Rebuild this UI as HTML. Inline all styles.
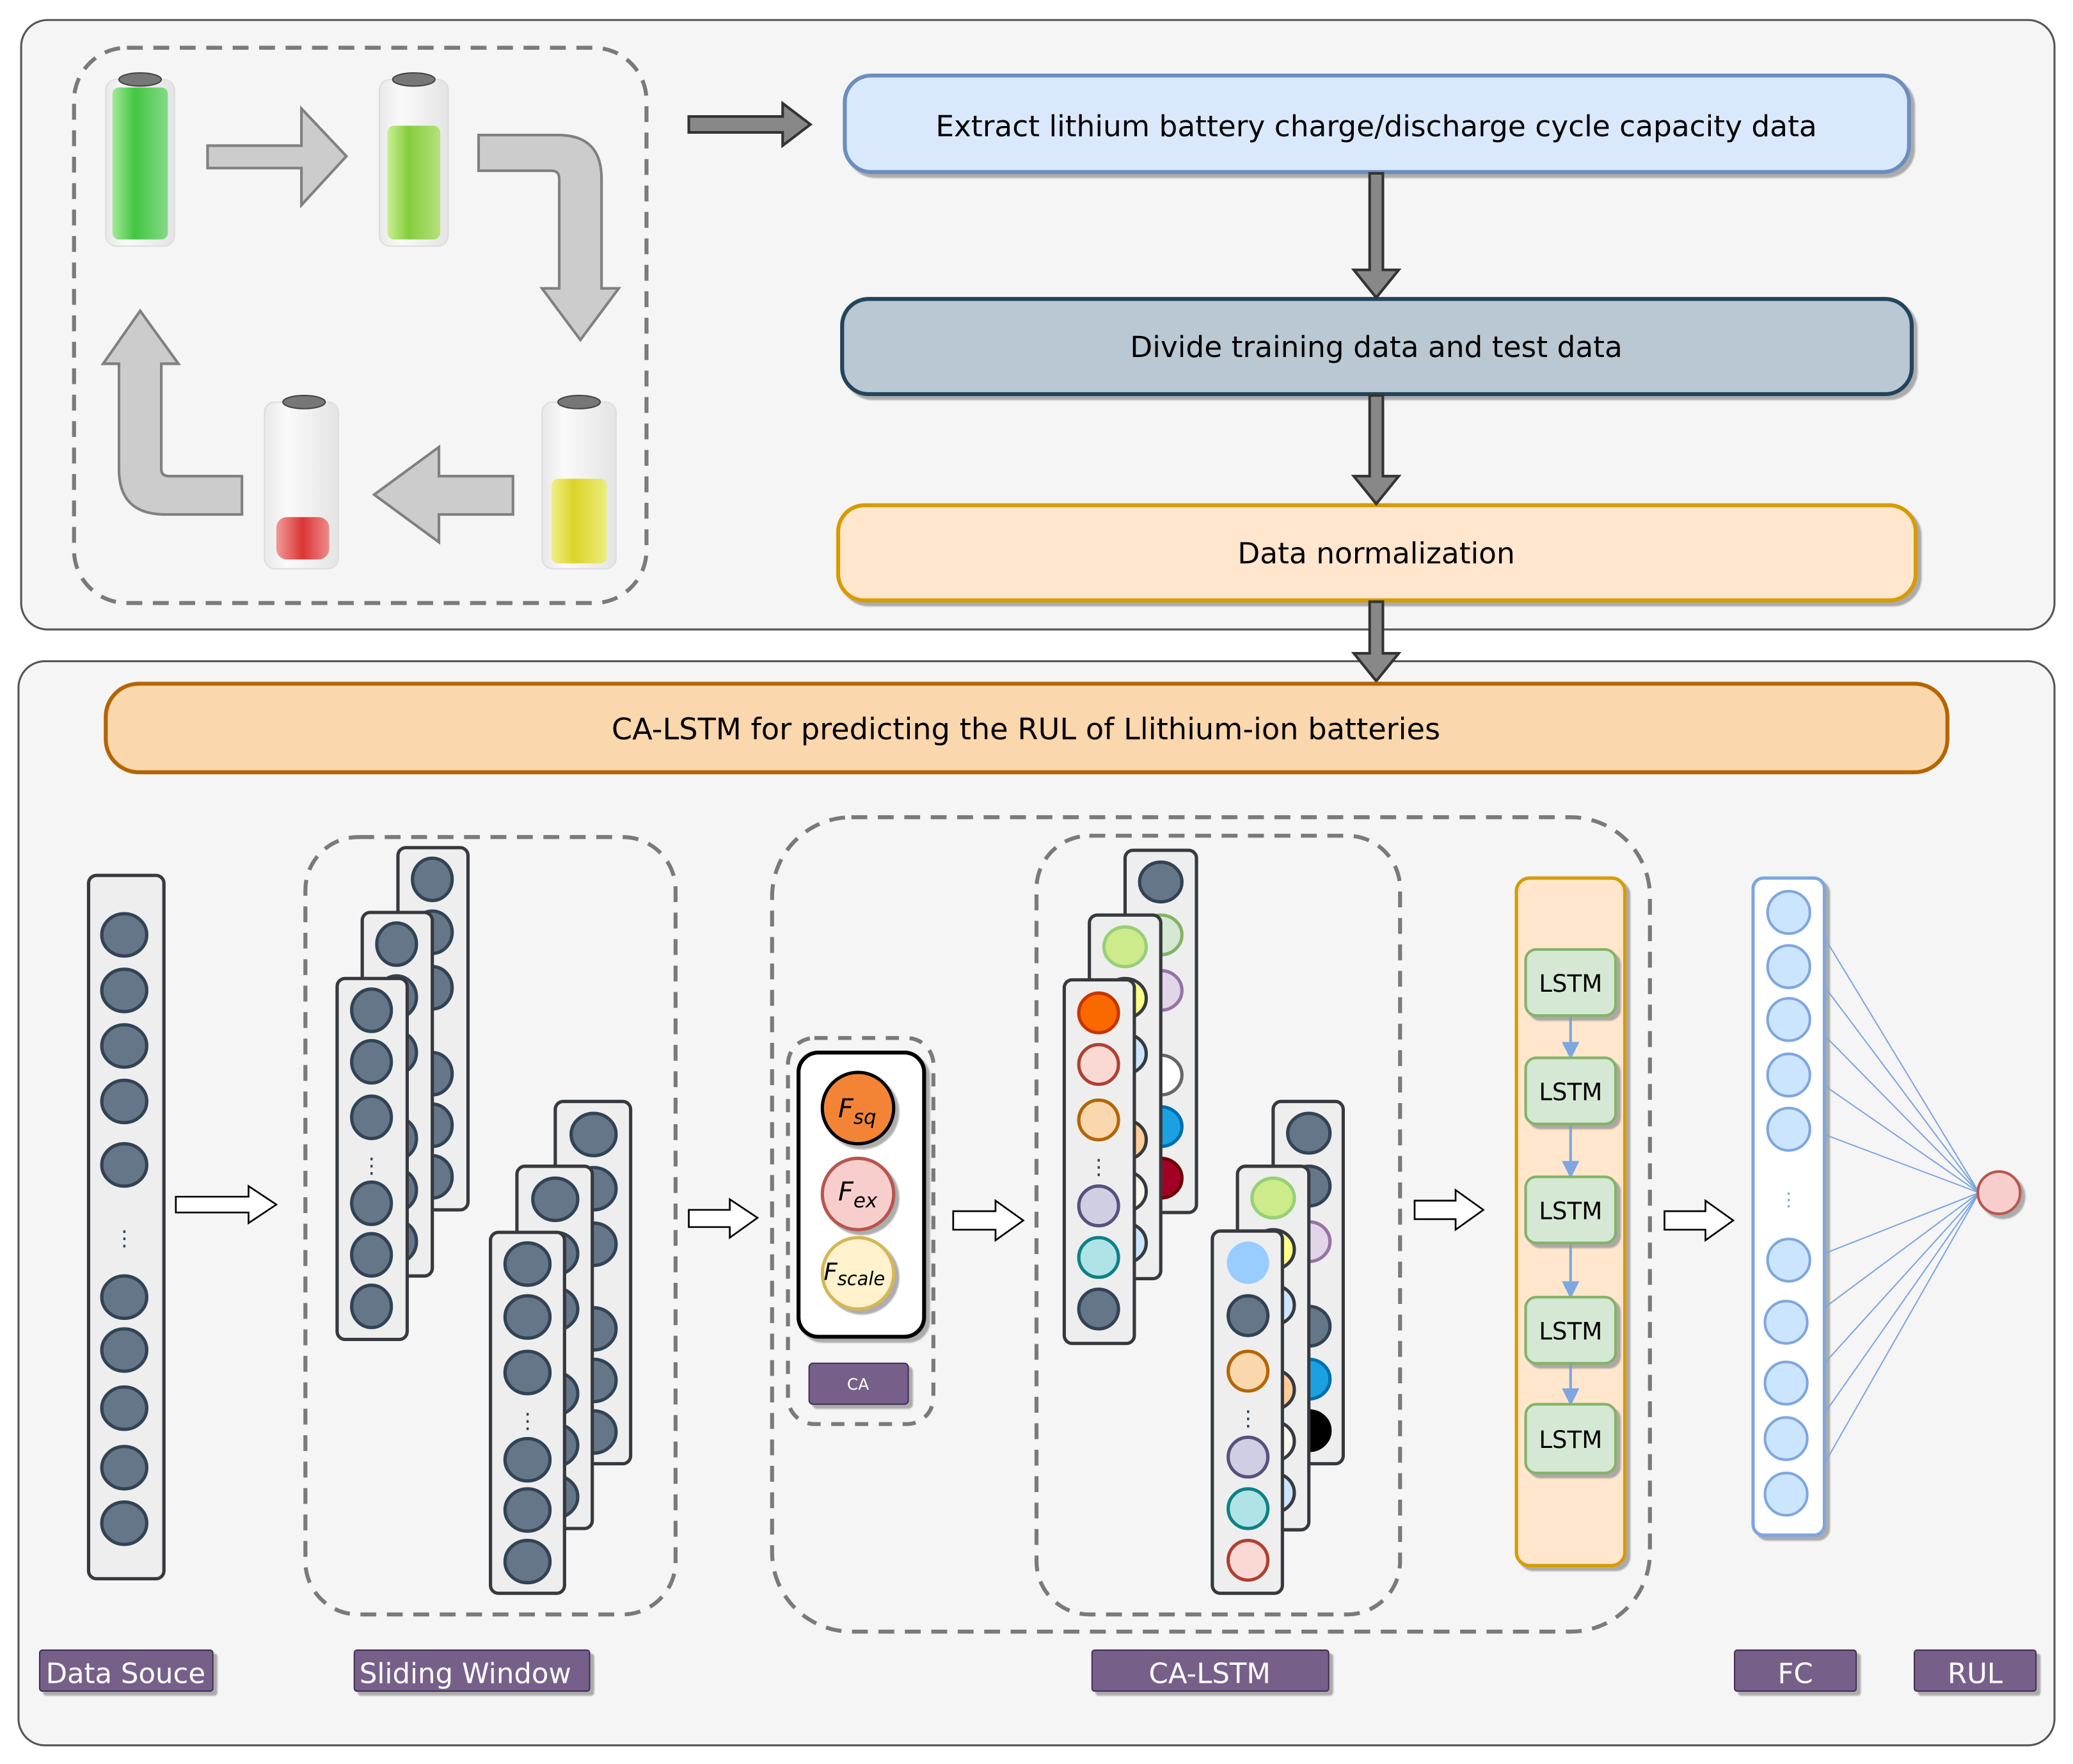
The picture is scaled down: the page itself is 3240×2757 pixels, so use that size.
<!DOCTYPE html>
<html><head><meta charset="utf-8"><style>
html,body{margin:0;padding:0;background:#fff}
svg{display:block}
text{font-family:"DejaVu Sans","Liberation Sans",sans-serif}
</style></head><body>
<svg width="3240" height="2757" viewBox="0 0 1568 1334" xmlns="http://www.w3.org/2000/svg">
<defs>
<linearGradient id="glass" x1="0" x2="1"><stop offset="0" stop-color="#e8e8e8"/><stop offset="0.3" stop-color="#fafafa"/><stop offset="1" stop-color="#e4e4e4"/></linearGradient>
<linearGradient id="gG" x1="0" x2="1"><stop offset="0" stop-color="#9be88f"/><stop offset="0.4" stop-color="#2fc02f"/><stop offset="1" stop-color="#7ad87a"/></linearGradient>
<linearGradient id="gL" x1="0" x2="1"><stop offset="0" stop-color="#c4f08a"/><stop offset="0.4" stop-color="#78c828"/><stop offset="1" stop-color="#b0e070"/></linearGradient>
<linearGradient id="gY" x1="0" x2="1"><stop offset="0" stop-color="#f0f080"/><stop offset="0.4" stop-color="#d8d010"/><stop offset="1" stop-color="#ecec70"/></linearGradient>
<linearGradient id="gR" x1="0" x2="1"><stop offset="0" stop-color="#f09090"/><stop offset="0.5" stop-color="#d82020"/><stop offset="1" stop-color="#f08080"/></linearGradient>
<filter id="sh" x="-10%" y="-10%" width="130%" height="130%"><feDropShadow dx="3" dy="3" stdDeviation="0.5" flood-color="#999" flood-opacity="0.8"/></filter>
</defs>
<rect width="1568" height="1334" fill="#fff"/>
<rect x="16" y="15" width="1538" height="461" rx="20" fill="#f5f5f5" stroke="#555" stroke-width="1.5"/>
<rect x="14" y="500" width="1540" height="820" rx="20" fill="#f5f5f5" stroke="#555" stroke-width="1.5"/>

<rect x="56" y="36" width="433" height="420" rx="40" fill="none" stroke="#7a7a7a" stroke-width="3" stroke-dasharray="12,8"/>
<g>
<rect x="80" y="60" width="52" height="126" rx="8" fill="url(#glass)" stroke="#ddd"/>
<rect x="85" y="66" width="42" height="115" rx="5" fill="url(#gG)" opacity="0.9"/>
<ellipse cx="106" cy="60" rx="16" ry="5" fill="#777" stroke="#444"/>
<rect x="287" y="60" width="52" height="126" rx="8" fill="url(#glass)" stroke="#ddd"/>
<rect x="293" y="95" width="40" height="86" rx="5" fill="url(#gL)" opacity="0.9"/>
<ellipse cx="313" cy="60" rx="16" ry="5" fill="#777" stroke="#444"/>
<rect x="410" y="304" width="56" height="126" rx="8" fill="url(#glass)" stroke="#ddd"/>
<rect x="417" y="362" width="42" height="64" rx="5" fill="url(#gY)" opacity="0.9"/>
<ellipse cx="438" cy="304" rx="16" ry="5" fill="#777" stroke="#444"/>
<rect x="200" y="304" width="56" height="126" rx="8" fill="url(#glass)" stroke="#ddd"/>
<rect x="209" y="391" width="40" height="32" rx="8" fill="url(#gR)" opacity="0.9"/>
<ellipse cx="230" cy="304" rx="16" ry="5" fill="#777" stroke="#444"/>
</g>
<g fill="#cccccc" stroke="#808080" stroke-width="2">
<path d="M157,110 H228 V82 L262,118 L228,155 V127 H157 Z"/>
<path d="M362,102 H422 Q455,102 455,135 V218 H468 L439,257 L410,218 H423 V135 Q423,129 417,129 H362 Z"/>
<path d="M388,360 H332 V338 L283,374 L332,410 V389 H388 Z"/>
<path d="M183,360 H128 Q122,360 122,355 V275 H135 L106,235 L78,275 H90 V355 Q90,389 125,389 H183 Z"/>
</g>
<path d="M521,88 H592 V78 L613,94 L592,110 V100 H521 Z" fill="#888" stroke="#333" stroke-width="2"/>

<rect x="639" y="57" width="805" height="73" rx="20" fill="#dae8fc" stroke="#6c8ebf" stroke-width="3" filter="url(#sh)"/>
<text x="1041" y="103" font-size="22" text-anchor="middle">Extract lithium battery charge/discharge cycle capacity data</text>
<rect x="637" y="226" width="809" height="72" rx="20" fill="#bac8d3" stroke="#23445d" stroke-width="3" filter="url(#sh)"/>
<text x="1041" y="270" font-size="22" text-anchor="middle">Divide training data and test data</text>
<rect x="634" y="382" width="815" height="72" rx="20" fill="#ffe6cc" stroke="#d79b00" stroke-width="3" filter="url(#sh)"/>
<text x="1041" y="426" font-size="22" text-anchor="middle">Data normalization</text>
<g fill="#888" stroke="#333" stroke-width="2">
<path d="M1036,131 H1046 V204 H1058 L1041,225 L1024,204 H1036 Z"/>
<path d="M1036,299 H1046 V360 H1058 L1041,381 L1024,360 H1036 Z"/>
<path d="M1036,455 H1046 V494 H1058 L1041,515 L1024,494 H1036 Z"/>
</g>

<rect x="80" y="517" width="1393" height="67" rx="25" fill="#fad7ac" stroke="#b46504" stroke-width="3"/>
<text x="776" y="559" font-size="22.4" text-anchor="middle">CA-LSTM for predicting the RUL of Llithium-ion batteries</text>

<rect x="67" y="662" width="57" height="532" rx="6" fill="#eeeeee" stroke="#36393d" stroke-width="2.5"/>
<g fill="#647687" stroke="#314354" stroke-width="2.5">
<ellipse cx="94" cy="707" rx="17" ry="16"/><ellipse cx="94" cy="749" rx="17" ry="16"/><ellipse cx="94" cy="791" rx="17" ry="16"/><ellipse cx="94" cy="833" rx="17" ry="16"/><ellipse cx="94" cy="881" rx="17" ry="16"/>
<ellipse cx="94" cy="981" rx="17" ry="16"/><ellipse cx="94" cy="1021" rx="17" ry="16"/><ellipse cx="94" cy="1065" rx="17" ry="16"/><ellipse cx="94" cy="1110" rx="17" ry="16"/><ellipse cx="94" cy="1152" rx="17" ry="16"/>
</g>
<text x="94" y="942" font-size="16" text-anchor="middle" fill="#314354">⋮</text>

<rect x="231" y="633" width="280" height="588" rx="40" fill="none" stroke="#7a7a7a" stroke-width="3" stroke-dasharray="12,8"/>
<g stroke="#36393d" stroke-width="2.5">
<rect x="301" y="641" width="53" height="274" rx="6" fill="#eeeeee"/>
<g fill="#647687" stroke="#314354"><ellipse cx="327" cy="665" rx="15" ry="16"/><ellipse cx="327" cy="705" rx="15" ry="16"/><ellipse cx="327" cy="747" rx="15" ry="16"/><ellipse cx="327" cy="812" rx="15" ry="16"/><ellipse cx="327" cy="851" rx="15" ry="16"/><ellipse cx="327" cy="890" rx="15" ry="16"/></g>
<rect x="274" y="690" width="53" height="275" rx="6" fill="#eeeeee"/>
<g fill="#647687" stroke="#314354"><ellipse cx="300" cy="714" rx="15" ry="16"/><ellipse cx="300" cy="754" rx="15" ry="16"/><ellipse cx="300" cy="796" rx="15" ry="16"/><ellipse cx="300" cy="861" rx="15" ry="16"/><ellipse cx="300" cy="900" rx="15" ry="16"/><ellipse cx="300" cy="939" rx="15" ry="16"/></g>
<rect x="255" y="740" width="53" height="273" rx="6" fill="#eeeeee"/>
<g fill="#647687" stroke="#314354"><ellipse cx="281" cy="764" rx="15" ry="16"/><ellipse cx="281" cy="803" rx="15" ry="16"/><ellipse cx="281" cy="845" rx="15" ry="16"/><ellipse cx="281" cy="910" rx="15" ry="16"/><ellipse cx="281" cy="949" rx="15" ry="16"/><ellipse cx="281" cy="988" rx="15" ry="16"/></g>

<rect x="420" y="833" width="57" height="274" rx="6" fill="#eeeeee"/>
<g fill="#647687" stroke="#314354"><ellipse cx="449" cy="858" rx="17" ry="16"/><ellipse cx="449" cy="899" rx="17" ry="16"/><ellipse cx="449" cy="941" rx="17" ry="16"/><ellipse cx="449" cy="1005" rx="17" ry="16"/><ellipse cx="449" cy="1044" rx="17" ry="16"/><ellipse cx="449" cy="1083" rx="17" ry="16"/></g>
<rect x="391" y="882" width="57" height="274" rx="6" fill="#eeeeee"/>
<g fill="#647687" stroke="#314354"><ellipse cx="420" cy="907" rx="17" ry="16"/><ellipse cx="420" cy="948" rx="17" ry="16"/><ellipse cx="420" cy="990" rx="17" ry="16"/><ellipse cx="420" cy="1054" rx="17" ry="16"/><ellipse cx="420" cy="1093" rx="17" ry="16"/><ellipse cx="420" cy="1132" rx="17" ry="16"/></g>
<rect x="371" y="932" width="56" height="273" rx="6" fill="#eeeeee"/>
<g fill="#647687" stroke="#314354"><ellipse cx="399" cy="956" rx="17" ry="16"/><ellipse cx="399" cy="996" rx="17" ry="16"/><ellipse cx="399" cy="1038" rx="17" ry="16"/><ellipse cx="399" cy="1104" rx="17" ry="16"/><ellipse cx="399" cy="1142" rx="17" ry="16"/><ellipse cx="399" cy="1181" rx="17" ry="16"/></g>
</g>
<text x="281" y="887" font-size="16" text-anchor="middle" fill="#314354">⋮</text>
<text x="399" y="1080" font-size="16" text-anchor="middle" fill="#314354">⋮</text>

<g fill="#fff" stroke="#000" stroke-width="1.3">
<path d="M133,905 H188 V897 L209,911 L188,925 V917 H133 Z"/>
<path d="M521,915 H552 V907 L573,921 L552,936 V928 H521 Z"/>
<path d="M721,916 H753 V908 L774,923 L753,938 V930 H721 Z"/>
<path d="M1070,908 H1101 V900 L1122,915 L1101,930 V922 H1070 Z"/>
<path d="M1259,916 H1290 V908 L1311,923 L1290,938 V930 H1259 Z"/>
</g>

<rect x="584" y="618" width="664" height="616" rx="60" fill="none" stroke="#7a7a7a" stroke-width="3" stroke-dasharray="12,8"/>
<rect x="596" y="785" width="110" height="292" rx="20" fill="none" stroke="#7a7a7a" stroke-width="3" stroke-dasharray="10,8"/>
<rect x="604" y="796" width="95" height="215" rx="15" fill="#fff" stroke="#000" stroke-width="3" filter="url(#sh)"/>
<circle cx="649" cy="838" r="27" fill="#f48436" stroke="#000" stroke-width="2.5" filter="url(#sh)"/>
<circle cx="649" cy="903" r="27" fill="#f8cecc" stroke="#b85450" stroke-width="2.5" filter="url(#sh)"/>
<circle cx="649" cy="963" r="27" fill="#fff2cc" stroke="#d6b656" stroke-width="2.5" filter="url(#sh)"/>
<text x="634" y="845" font-size="20" font-style="italic">F<tspan font-size="15" dy="5">sq</tspan></text>
<text x="634" y="908" font-size="20" font-style="italic">F<tspan font-size="15" dy="5">ex</tspan></text>
<text x="623" y="968" font-size="18" font-style="italic">F<tspan font-size="14" dy="4">scale</tspan></text>
<rect x="612" y="1031" width="75" height="31" rx="3" fill="#76608a" stroke="#432d57" filter="url(#sh)"/>
<text x="649" y="1051" font-size="12" fill="#fff" text-anchor="middle">CA</text>

<rect x="784" y="632" width="275" height="589" rx="40" fill="none" stroke="#7a7a7a" stroke-width="3" stroke-dasharray="12,8"/>
<g stroke-width="2.5">
<rect x="851" y="643" width="54" height="274" rx="6" fill="#eeeeee" stroke="#36393d"/>
<ellipse cx="878" cy="667" rx="16" ry="15" fill="#647687" stroke="#314354"/>
<ellipse cx="878" cy="707" rx="16" ry="15" fill="#d5e8d4" stroke="#82b366"/>
<ellipse cx="878" cy="749" rx="16" ry="15" fill="#e1d5e7" stroke="#9673a6"/>
<ellipse cx="878" cy="813" rx="16" ry="15" fill="#fff" stroke="#666"/>
<ellipse cx="878" cy="852" rx="16" ry="15" fill="#1ba1e2" stroke="#006eaf"/>
<ellipse cx="878" cy="891" rx="16" ry="15" fill="#a20025" stroke="#6f0000"/>
<rect x="824" y="692" width="54" height="275" rx="6" fill="#eeeeee" stroke="#36393d"/>
<ellipse cx="851" cy="716" rx="16" ry="15" fill="#cdeb8b" stroke="#97d077"/>
<ellipse cx="851" cy="755" rx="16" ry="15" fill="#ffff88" stroke="#36393d"/>
<ellipse cx="851" cy="797" rx="16" ry="15" fill="#cce5ff" stroke="#36393d"/>
<ellipse cx="851" cy="862" rx="16" ry="15" fill="#ffcc99" stroke="#36393d"/>
<ellipse cx="851" cy="901" rx="16" ry="15" fill="#f9f7ed" stroke="#36393d"/>
<ellipse cx="851" cy="940" rx="16" ry="15" fill="#cce5ff" stroke="#36393d"/>
<rect x="805" y="741" width="53" height="275" rx="6" fill="#eeeeee" stroke="#36393d"/>
<ellipse cx="831" cy="766" rx="15" ry="15" fill="#fa6800" stroke="#c73500"/>
<ellipse cx="831" cy="805" rx="15" ry="15" fill="#fad9d5" stroke="#ae4132"/>
<ellipse cx="831" cy="847" rx="15" ry="15" fill="#fad7ac" stroke="#b46504"/>
<ellipse cx="831" cy="912" rx="15" ry="15" fill="#d0cee2" stroke="#56517e"/>
<ellipse cx="831" cy="951" rx="15" ry="15" fill="#b0e3e6" stroke="#0e8088"/>
<ellipse cx="831" cy="990" rx="15" ry="15" fill="#647687" stroke="#314354"/>

<rect x="963" y="833" width="53" height="274" rx="6" fill="#eeeeee" stroke="#36393d"/>
<ellipse cx="990" cy="857" rx="16" ry="15" fill="#647687" stroke="#314354"/>
<ellipse cx="990" cy="897" rx="16" ry="15" fill="#647687" stroke="#314354"/>
<ellipse cx="990" cy="939" rx="16" ry="15" fill="#e1d5e7" stroke="#9673a6"/>
<ellipse cx="990" cy="1003" rx="16" ry="15" fill="#647687" stroke="#314354"/>
<ellipse cx="990" cy="1043" rx="16" ry="15" fill="#1ba1e2" stroke="#006eaf"/>
<ellipse cx="990" cy="1082" rx="16" ry="15" fill="#000" stroke="#000"/>
<rect x="936" y="882" width="54" height="275" rx="6" fill="#eeeeee" stroke="#36393d"/>
<ellipse cx="963" cy="906" rx="16" ry="15" fill="#cdeb8b" stroke="#97d077"/>
<ellipse cx="963" cy="945" rx="16" ry="15" fill="#ffff88" stroke="#36393d"/>
<ellipse cx="963" cy="987" rx="16" ry="15" fill="#cce5ff" stroke="#36393d"/>
<ellipse cx="963" cy="1051" rx="16" ry="15" fill="#ffcc99" stroke="#36393d"/>
<ellipse cx="963" cy="1090" rx="16" ry="15" fill="#f9f7ed" stroke="#36393d"/>
<ellipse cx="963" cy="1129" rx="16" ry="15" fill="#cce5ff" stroke="#36393d"/>
<rect x="917" y="931" width="53" height="274" rx="6" fill="#eeeeee" stroke="#36393d"/>
<ellipse cx="944" cy="955" rx="16" ry="16" fill="#99ccff" stroke="none"/>
<ellipse cx="944" cy="995" rx="15" ry="15" fill="#647687" stroke="#314354"/>
<ellipse cx="944" cy="1037" rx="15" ry="15" fill="#fad7ac" stroke="#b46504"/>
<ellipse cx="944" cy="1102" rx="15" ry="15" fill="#d0cee2" stroke="#56517e"/>
<ellipse cx="944" cy="1141" rx="15" ry="15" fill="#b0e3e6" stroke="#0e8088"/>
<ellipse cx="944" cy="1180" rx="15" ry="15" fill="#fad9d5" stroke="#ae4132"/>
</g>
<text x="831" y="888" font-size="16" text-anchor="middle" fill="#314354">⋮</text>
<text x="944" y="1078" font-size="16" text-anchor="middle" fill="#314354">⋮</text>

<rect x="1147" y="664" width="82" height="520" rx="10" fill="#ffe6cc" stroke="#d79b00" stroke-width="2.5" filter="url(#sh)"/>
<g stroke="#7ea6e0" stroke-width="2" fill="#7ea6e0">
<line x1="1188" y1="768" x2="1188" y2="792"/><path d="M1183,789 L1193,789 L1188,799 Z"/>
<line x1="1188" y1="850" x2="1188" y2="882"/><path d="M1183,879 L1193,879 L1188,889 Z"/>
<line x1="1188" y1="940" x2="1188" y2="973"/><path d="M1183,970 L1193,970 L1188,980 Z"/>
<line x1="1188" y1="1031" x2="1188" y2="1054"/><path d="M1183,1051 L1193,1051 L1188,1061 Z"/>
</g>
<g fill="#d5e8d4" stroke="#82b366" stroke-width="2" filter="url(#sh)">
<rect x="1154" y="718" width="68" height="50" rx="8"/>
<rect x="1154" y="800" width="68" height="50" rx="8"/>
<rect x="1154" y="890" width="68" height="50" rx="8"/>
<rect x="1154" y="981" width="68" height="50" rx="8"/>
<rect x="1154" y="1062" width="68" height="52" rx="8"/>
</g>
<g font-size="18" text-anchor="middle">
<text x="1188" y="750">LSTM</text><text x="1188" y="832">LSTM</text><text x="1188" y="922">LSTM</text><text x="1188" y="1013">LSTM</text><text x="1188" y="1095">LSTM</text>
</g>

<rect x="1326" y="664" width="54" height="497" rx="8" fill="#fff" stroke="#7ea6e0" stroke-width="2.5" filter="url(#sh)"/>
<g stroke="#7ea6e0" stroke-width="1">
<line x1="1380" y1="709" x2="1497" y2="902"/><line x1="1380" y1="746" x2="1497" y2="902"/><line x1="1380" y1="783" x2="1497" y2="902"/><line x1="1380" y1="821" x2="1497" y2="902"/><line x1="1380" y1="858" x2="1497" y2="902"/>
<line x1="1380" y1="948" x2="1497" y2="902"/><line x1="1380" y1="989" x2="1497" y2="902"/><line x1="1380" y1="1031" x2="1497" y2="902"/><line x1="1380" y1="1069" x2="1497" y2="902"/><line x1="1380" y1="1107" x2="1497" y2="902"/>
</g>
<g fill="#cce5ff" stroke="#7ea6e0" stroke-width="2">
<ellipse cx="1353" cy="690" rx="16" ry="16"/><ellipse cx="1353" cy="731" rx="16" ry="16"/><ellipse cx="1353" cy="771" rx="16" ry="16"/><ellipse cx="1353" cy="813" rx="16" ry="16"/><ellipse cx="1353" cy="854" rx="16" ry="16"/>
<ellipse cx="1353" cy="953" rx="16" ry="16"/><ellipse cx="1351" cy="1000" rx="16" ry="16"/><ellipse cx="1351" cy="1046" rx="16" ry="16"/><ellipse cx="1351" cy="1088" rx="16" ry="16"/><ellipse cx="1351" cy="1130" rx="16" ry="16"/>
</g>
<text x="1353" y="912" font-size="14" text-anchor="middle" fill="#7ea6e0">⋮</text>
<ellipse cx="1512" cy="902" rx="16" ry="16" fill="#f8cecc" stroke="#b85450" stroke-width="2" filter="url(#sh)"/>

<g fill="#76608a" stroke="#432d57" stroke-width="1" filter="url(#sh)">
<rect x="30" y="1248" width="131" height="31" rx="2"/>
<rect x="268" y="1248" width="178" height="31" rx="2"/>
<rect x="826" y="1248" width="179" height="31" rx="2"/>
<rect x="1312" y="1248" width="92" height="31" rx="2"/>
<rect x="1448" y="1248" width="92" height="31" rx="2"/>
</g>
<g fill="#fff" font-size="21" text-anchor="middle">
<text x="95" y="1273">Data Souce</text>
<text x="352" y="1273">Sliding Window</text>
<text x="915" y="1273">CA-LSTM</text>
<text x="1358" y="1273">FC</text>
<text x="1494" y="1273">RUL</text>
</g>
</svg>
</body></html>
